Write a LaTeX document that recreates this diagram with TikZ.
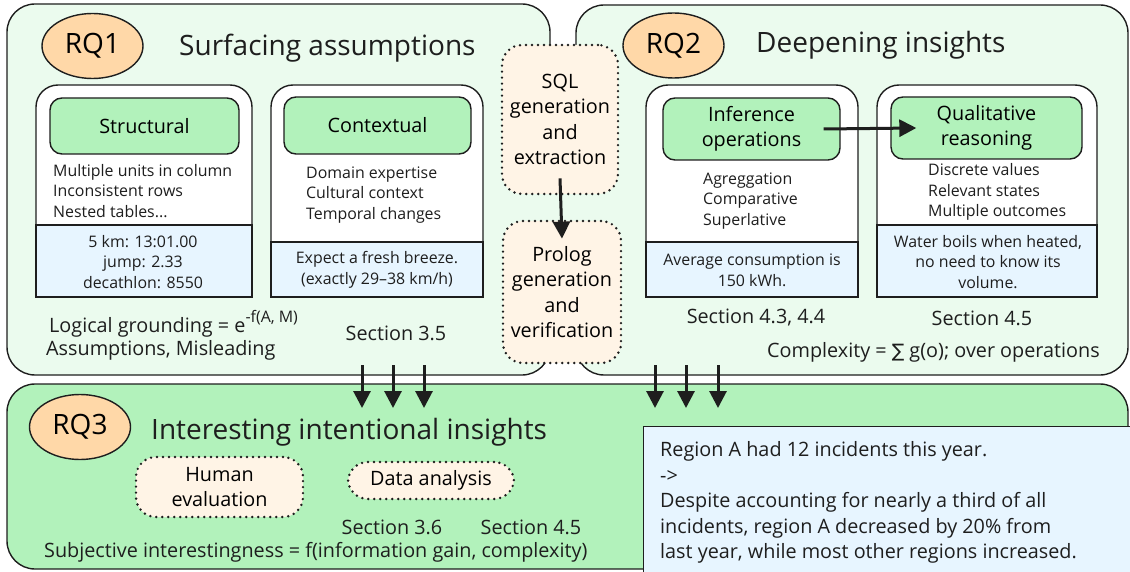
\documentclass[tikz,border=0pt]{standalone}
\usepackage{fontspec}
\setmainfont{Open Sans}
\newfontfamily\symfont{DejaVu Sans}
\usetikzlibrary{shapes.geometric,arrows.meta}

\definecolor{ink}{HTML}{1E1E1E}
\definecolor{mint}{HTML}{EBFBEE}
\definecolor{leaf}{HTML}{B2F2BB}
\definecolor{sky}{HTML}{E7F5FF}
\definecolor{peach}{HTML}{FFD8A8}
\definecolor{cream}{HTML}{FFF4E6}

\newcommand{\titlefont}{\fontsize{28}{30}\selectfont}
\newcommand{\bodyfont}{\fontsize{19.8}{25.5}\selectfont}
\newcommand{\itemfont}{\fontsize{15.9}{20.7}\selectfont}

\tikzset{
	panel/.style={draw=ink, line width=1.4pt, rounded corners=28pt},
	rqbubble/.style={ellipse, draw=ink, fill=peach, line width=1.4pt, minimum width=101pt, minimum height=65pt, inner sep=0pt, font=\titlefont},
	header/.style={draw=ink, fill=leaf, line width=1.4pt, rounded corners=12pt, align=center, inner sep=0pt, font=\bodyfont},
	dotbox/.style={draw=ink, fill=cream, line width=2.7pt, dash pattern=on 0pt off 6pt, line cap=round, rounded corners=20pt, align=center, inner sep=0pt, font=\bodyfont},
	flow/.style={-{Triangle[width=17pt,length=17pt]}, draw=ink, line width=3pt},
	txt/.style={inner sep=0pt, text=ink},
}

\begin{document}
\begin{tikzpicture}[x=1pt,y=-1pt]
	\useasboundingbox (0,0) rectangle (1130,572);

	%panels
	\filldraw[panel, fill=mint] (7,4) rectangle (550,375);
	\filldraw[panel, fill=mint] (576,5) rectangle (1128,375);
	\filldraw[panel, fill=leaf] (7,384) rectangle (1128,569);
	\fill[mint] (543,120) rectangle (583,300);		%hide the gap between the panels

	%cards: left, right, top of the blue part
	\foreach \xa/\xb/\yb in {36/252/225, 271/483/242, 646/858/242, 877/1097/225}{
		\filldraw[draw=ink, fill=white, line width=1.4pt] (\xa,297) [rounded corners=22pt] -- (\xa,85) -- (\xb,85) [sharp corners] -- (\xb,297) -- cycle;
		\filldraw[draw=ink, fill=sky, line width=1.4pt] (\xa,\yb) rectangle (\xb,297);
	}

	%RQ1
	\node[rqbubble] (rq1) at (92.5,46) {RQ1};
	\node[txt, font=\titlefont, anchor=west] (rq1title) at (179,48) {Surfacing assumptions};
	\node[header, minimum width=189pt, minimum height=56pt] (struct) at (144.5,126) {Structural};
	\node[txt, font=\itemfont, align=left, anchor=west] (structitems) at (53,191) {Multiple units in column\\Inconsistent rows\\Nested tables...};
	\node[txt, font=\itemfont, align=center] (structex) at (143,262) {5 km: 13:01.00\\jump: 2.33\\decathlon: 8550};
	\node[header, minimum width=187pt, minimum height=57pt] (context) at (377.5,125.5) {Contextual};
	\node[txt, font=\itemfont, align=left, anchor=west] (contextitems) at (306,195) {Domain expertise\\Cultural context\\Temporal changes};
	\node[txt, font=\itemfont, align=center] (contextex) at (377,269.5) {Expect a fresh breeze.\\(exactly 29--38 km/h)};
	\node[txt, font=\bodyfont, anchor=west] (grounding) at (49,324) {Logical grounding = e\raisebox{0.5em}{\fontsize{15.9}{16}\selectfont-f(A, M)}};
	\node[txt, font=\bodyfont, anchor=west] (misleading) at (46,350) {Assumptions, Misleading};
	\node[txt, font=\bodyfont] (sec35) at (396,333) {Section 3.5};

	%RQ2
	\node[rqbubble] (rq2) at (673.5,45.5) {RQ2};
	\node[txt, font=\titlefont, anchor=west] (rq2title) at (756,45) {Deepening insights};
	\node[header, minimum width=177pt, minimum height=62pt] (infer) at (751.5,129) {Inference\\operations};
	\node[txt, font=\itemfont, align=left, anchor=west] (inferitems) at (703,201) {Agreggation\\Comparative\\Superlative};
	\node[txt, font=\itemfont, align=center] (inferex) at (752,270) {Average consumption is\\150 kWh.};
	\node[header, minimum width=191pt, minimum height=62pt] (quali) at (986.5,128) {Qualitative\\reasoning};
	\node[txt, font=\itemfont, align=left, anchor=west] (qualiitems) at (928,192) {Discrete values\\Relevant states\\Multiple outcomes};
	\node[txt, font=\itemfont, align=center] (qualiex) at (988,262) {Water boils when heated,\\no need to know its\\volume.};
	\node[txt, font=\bodyfont] (sec4344) at (756,318) {Section 4.3, 4.4};
	\node[txt, font=\bodyfont] (sec45a) at (982,318) {Section 4.5};
	\node[txt, font=\bodyfont, anchor=west] (complexity) at (767,352) {Complexity = {\symfont\fontsize{18.5}{18}\selectfont ∑} g(o); over operations};

	%solvers between the panels
	\node[dotbox, minimum width=116pt, minimum height=149pt] (sql) at (560,119.5) {SQL\\generation\\and\\extraction};
	\node[dotbox, minimum width=118pt, minimum height=142pt] (prolog) at (562,292) {Prolog\\generation\\and\\verification};

	%RQ3
	\node[rqbubble] (rq3) at (80,427) {RQ3};
	\node[txt, font=\titlefont, anchor=west] (rq3title) at (151,432) {Interesting intentional insights};
	\node[dotbox, minimum width=167pt, minimum height=60pt] (human) at (219.5,487) {Human\\evaluation};
	\node[dotbox, minimum width=166pt, minimum height=37pt] (data) at (431,480.5) {Data analysis};
	\node[txt, font=\bodyfont] (sec36) at (392,527) {Section 3.6};
	\node[txt, font=\bodyfont] (sec45b) at (531,527) {Section 4.5};
	\node[txt, font=\bodyfont, anchor=west] (interest) at (44,552) {Subjective interestingness = f(information gain, complexity)};
	\node[draw=ink, fill=sky, line width=1.4pt, minimum width=490pt, minimum height=150pt, anchor=north west, inner sep=0pt] (example) at (643,426) {};
	\node[txt, font=\bodyfont, align=left, anchor=west] (exampletext) at (660,502.5) {Region A had 12 incidents this year.\\->\\Despite accounting for nearly a third of all\\incidents, region A decreased by 20\% from\\last year, while most other regions increased.};

	%connectors
	\draw[flow] ([xshift=-17pt]infer.east) -- ([xshift=26pt]quali.west);
	\draw[flow] ([yshift=17pt]sql.south) -- ([yshift=-19pt]prolog.north);
	\foreach \ax [count=\i] in {362,393,424,655,686,718}{
		\coordinate (src\i) at (\ax,365);
		\coordinate (dst\i) at (\ax,408);
		\draw[flow] (src\i) -- (dst\i);
	}
\end{tikzpicture}
\end{document}
